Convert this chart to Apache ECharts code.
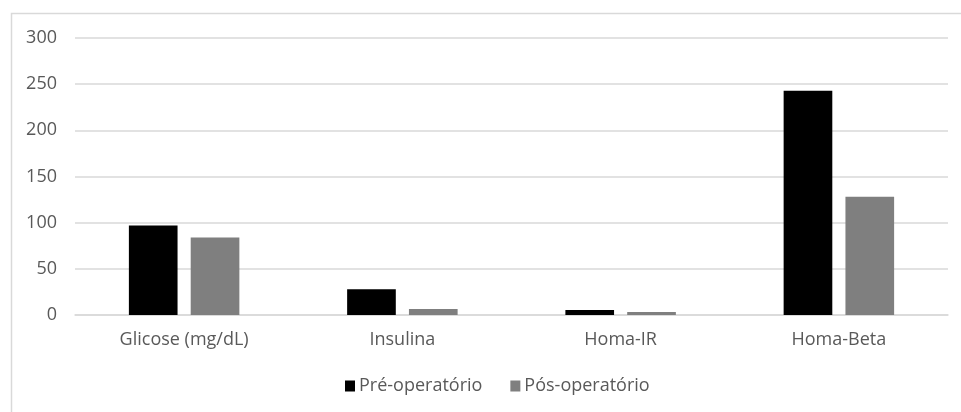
<!DOCTYPE html>
<html>
<head>
<meta charset="utf-8">
<script src="https://cdn.jsdelivr.net/npm/echarts@6/dist/echarts.min.js"></script>
<style>html,body{margin:0;padding:0;background:#fff}#c{width:961px;height:412px}</style>
</head>
<body>
<div id="c"></div>
<script>
const categories = ['Glicose (mg/dL)', 'Insulina', 'Homa-IR', 'Homa-Beta'];
const preOperatorio = [97, 28, 5.5, 243];
const posOperatorio = [84, 6.5, 3.2, 128];
const seriesNames = ['Pré-operatório', 'Pós-operatório'];
const yTicks = [0, 50, 100, 150, 200, 250, 300];

const font = 'Open Sans';
const chart = echarts.init(document.getElementById('c'), null, {renderer: 'canvas'});
chart.setOption({
  animation: false,
  backgroundColor: '#fff',
  graphic: [{
    type: 'rect', shape: {x: 11.5, y: 13.5, width: 960, height: 410},
    style: {fill: 'none', stroke: '#d9d9d9', lineWidth: 1.5}, silent: true
  }],
  grid: {left: 75, right: 13, top: 38, bottom: 97},
  legend: {
    data: seriesNames, left: 345, top: 377, padding: 0, itemWidth: 10, itemHeight: 11, itemGap: 28,
    icon: 'rect',
    textStyle: {fontFamily: font, fontSize: 18, color: '#595959', padding: [0, 0, 0, -1]}
  },
  xAxis: {
    type: 'category', data: categories,
    axisLine: {lineStyle: {color: '#d9d9d9', width: 1.5}},
    axisTick: {show: false},
    axisLabel: {fontFamily: font, fontSize: 18, color: '#595959', margin: 16}
  },
  yAxis: {
    type: 'value', min: yTicks[0], max: yTicks[yTicks.length - 1], interval: 50,
    axisLine: {show: false}, axisTick: {show: false},
    splitLine: {lineStyle: {color: '#d9d9d9', width: 1.5}},
    axisLabel: {fontFamily: font, fontSize: 18, color: '#595959', margin: 18}
  },
  series: [
    {name: seriesNames[0], type: 'bar', data: preOperatorio, barWidth: '22.3%', barGap: '27%',
     itemStyle: {color: '#000000'}},
    {name: seriesNames[1], type: 'bar', data: posOperatorio, barWidth: '22.3%',
     itemStyle: {color: '#7f7f7f'}}
  ]
});
</script>
</body>
</html>
